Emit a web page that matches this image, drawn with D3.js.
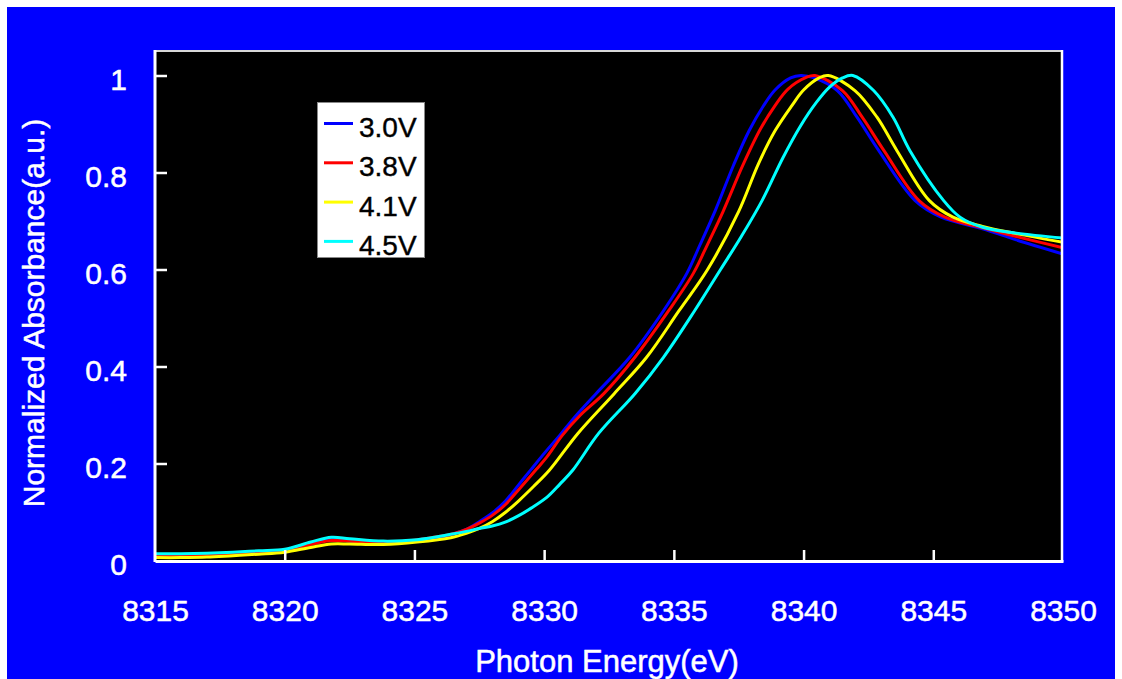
<!DOCTYPE html>
<html>
<head>
<meta charset="utf-8">
<script src="https://cdn.jsdelivr.net/npm/d3@7"></script>
<style>
  body { margin: 0; background: #ffffff; }
  svg { display: block; font-family: "Liberation Sans", Arial, sans-serif; }
</style>
</head>
<body>
<div id="container"></div>
<script>
/* CONSTANTS AND GLOBALS */
const width = 1122,
  height = 679,
  margin = { top: 50, bottom: 119, left: 155, right: 59 };

/* DATA */
const labels = ["3.0V", "3.8V", "4.1V", "4.5V"];
const colors = ["#0000ff", "#ff0000", "#ffff00", "#00ffff"];

const energy30 = [8315, 8316, 8317, 8318, 8319, 8320, 8321, 8321.8, 8322.5, 8323, 8324, 8325, 8326, 8326.5, 8327, 8327.5, 8328, 8328.5, 8329, 8329.5, 8330.1, 8330.6, 8331.2, 8332.0, 8333.3, 8334.6, 8335.5, 8336.0, 8336.6, 8337.3, 8337.9, 8338.45, 8338.9, 8339.5, 8339.9, 8340.4, 8341.3, 8342.06, 8342.9, 8344.3, 8345.3, 8346.9, 8348.2, 8350];
const abs30 = [0.012, 0.012, 0.013, 0.016, 0.018, 0.022, 0.035, 0.045, 0.040, 0.037, 0.037, 0.041, 0.048, 0.055, 0.064, 0.080, 0.098, 0.122, 0.155, 0.188, 0.227, 0.258, 0.297, 0.344, 0.419, 0.515, 0.592, 0.650, 0.722, 0.815, 0.886, 0.937, 0.970, 0.995, 1.0, 0.995, 0.969, 0.914, 0.845, 0.742, 0.708, 0.684, 0.661, 0.632];

const energy38 = [8315, 8316, 8317, 8318, 8319, 8320, 8321, 8321.8, 8322.5, 8323, 8324, 8325, 8326, 8326.5, 8327, 8327.5, 8328, 8328.5, 8329, 8329.7, 8330.1, 8330.7, 8331.4, 8332.3, 8333.5, 8334.8, 8335.75, 8336.3, 8336.9, 8337.66, 8338.32, 8338.9, 8339.4, 8340.1, 8340.44, 8341.5, 8342.26, 8343.1, 8344.45, 8345.45, 8346.9, 8348.2, 8350];
const abs38 = [0.010, 0.010, 0.011, 0.013, 0.016, 0.022, 0.033, 0.041, 0.040, 0.038, 0.038, 0.042, 0.050, 0.055, 0.064, 0.077, 0.093, 0.115, 0.145, 0.188, 0.213, 0.258, 0.300, 0.344, 0.419, 0.515, 0.592, 0.652, 0.720, 0.815, 0.888, 0.938, 0.972, 0.996, 1.0, 0.969, 0.914, 0.845, 0.742, 0.708, 0.686, 0.668, 0.645];

const energy41 = [8315, 8316, 8317, 8318, 8319, 8320, 8321, 8321.8, 8322.5, 8323.8, 8325.1, 8326.4, 8327, 8327.5, 8328, 8328.5, 8329, 8329.6, 8330.2, 8331.3, 8332.7, 8333.95, 8335.2, 8336.3, 8337.5, 8338.26, 8338.9, 8339.55, 8340.0, 8340.6, 8340.95, 8341.98, 8342.83, 8343.6, 8344.85, 8345.76, 8346.9, 8348.2, 8350];
const abs41 = [0.006, 0.006, 0.007, 0.010, 0.013, 0.017, 0.027, 0.034, 0.034, 0.033, 0.038, 0.047, 0.056, 0.066, 0.080, 0.099, 0.122, 0.153, 0.186, 0.262, 0.344, 0.419, 0.515, 0.600, 0.720, 0.818, 0.886, 0.938, 0.970, 0.995, 1.0, 0.969, 0.914, 0.845, 0.742, 0.708, 0.689, 0.674, 0.656];

const energy45 = [8315, 8316, 8317, 8318, 8319, 8320, 8321, 8321.8, 8322.5, 8323.8, 8325.1, 8326.4, 8327, 8327.5, 8328, 8328.5, 8329, 8329.5, 8330.1, 8330.6, 8331.1, 8332.1, 8333.5, 8334.6, 8335.8, 8336.8, 8337.6, 8338.4, 8339.2, 8339.87, 8340.5, 8341.0, 8341.5, 8341.9, 8342.7, 8343.45, 8344.1, 8345.4, 8346.03, 8346.9, 8348.2, 8350];
const abs45 = [0.014, 0.014, 0.015, 0.017, 0.020, 0.023, 0.038, 0.048, 0.045, 0.040, 0.043, 0.054, 0.060, 0.066, 0.071, 0.079, 0.092, 0.108, 0.130, 0.157, 0.186, 0.262, 0.344, 0.419, 0.515, 0.600, 0.668, 0.742, 0.830, 0.895, 0.945, 0.976, 0.995, 1.0, 0.969, 0.914, 0.845, 0.742, 0.708, 0.687, 0.675, 0.665];

const xTicks = [8315, 8320, 8325, 8330, 8335, 8340, 8345, 8350];
const yTicks = [0, 0.2, 0.4, 0.6, 0.8, 1];

const series = [
  { name: labels[0], color: colors[0], values: energy30.map((e, i) => ({ e, a: abs30[i] })) },
  { name: labels[1], color: colors[1], values: energy38.map((e, i) => ({ e, a: abs38[i] })) },
  { name: labels[2], color: colors[2], values: energy41.map((e, i) => ({ e, a: abs41[i] })) },
  { name: labels[3], color: colors[3], values: energy45.map((e, i) => ({ e, a: abs45[i] })) }
];

/* SCALES */
const xScale = d3.scaleLinear()
  .domain([8315, 8350])
  .range([margin.left, width - margin.right]);

// 0 sits on the bottom axis, 1 at y~75
const yScale = d3.scaleLinear()
  .domain([0, 1])
  .range([560.5, 75.5]);

const bottom = 560.5;

/* SVG */
const svg = d3.select("#container")
  .append("svg")
  .attr("width", width)
  .attr("height", height);

// blue panel
svg.append("rect")
  .attr("x", 7).attr("y", 7)
  .attr("width", width - 14).attr("height", height - 7)
  .attr("fill", "#0000ff");

// plot area
svg.append("rect")
  .attr("x", xScale(8315)).attr("y", margin.top)
  .attr("width", xScale(8350) - xScale(8315))
  .attr("height", bottom - margin.top)
  .attr("fill", "#000000");

svg.append("defs").append("clipPath").attr("id", "clip")
  .append("rect")
  .attr("x", xScale(8315)).attr("y", margin.top)
  .attr("width", xScale(8350) - xScale(8315))
  .attr("height", bottom - margin.top);

// curves
const line = d3.line()
  .x(d => xScale(d.e))
  .y(d => yScale(d.a))
  .curve(d3.curveCatmullRom.alpha(0.5));

svg.append("g")
  .attr("clip-path", "url(#clip)")
  .selectAll("path")
  .data(series)
  .join("path")
  .attr("d", d => line(d.values))
  .attr("fill", "none")
  .attr("stroke", d => d.color)
  .attr("stroke-width", 3)
  .attr("stroke-linejoin", "round");

// frame
svg.append("line")
  .attr("x1", xScale(8315)).attr("x2", xScale(8350))
  .attr("y1", margin.top + 1).attr("y2", margin.top + 1)
  .attr("stroke", "#d8d8d8").attr("stroke-width", 2);
svg.append("line")
  .attr("x1", xScale(8350) - 1).attr("x2", xScale(8350) - 1)
  .attr("y1", margin.top).attr("y2", 562)
  .attr("stroke", "#ffffff").attr("stroke-width", 2.5);

// axes
const xAxis = d3.axisBottom(xScale)
  .tickValues(xTicks)
  .tickSize(0)
  .tickFormat(d3.format("d"));
const yAxis = d3.axisLeft(yScale)
  .tickValues(yTicks)
  .tickSize(0)
  .tickFormat(d => d === 0 || d === 1 ? String(d) : d.toFixed(1));

const xAxisGroup = svg.append("g")
  .attr("transform", `translate(0, ${561})`)
  .call(xAxis);
xAxisGroup.select(".domain").attr("stroke", "#ffffff").attr("stroke-width", 3);
xAxisGroup.selectAll(".tick text")
  .attr("fill", "#ffffff")
  .attr("stroke", "#ffffff")
  .attr("stroke-width", 0.5)
  .attr("font-size", 30)
  .attr("font-family", "'Liberation Sans', Arial, sans-serif")
  .attr("dy", null)
  .attr("y", 60);
// inward ticks
xAxisGroup.selectAll(".tick")
  .filter(d => d > 8315 && d < 8350)
  .append("line")
  .attr("y1", 0).attr("y2", -11)
  .attr("stroke", "#ffffff").attr("stroke-width", 2.5);

const yAxisGroup = svg.append("g")
  .attr("transform", `translate(${xScale(8315)}, 0)`)
  .call(yAxis);
yAxisGroup.select(".domain").attr("stroke", "#ffffff").attr("stroke-width", 3)
  .attr("d", `M0,${margin.top}V562`);
yAxisGroup.selectAll(".tick text")
  .attr("fill", "#ffffff")
  .attr("stroke", "#ffffff")
  .attr("stroke-width", 0.5)
  .attr("font-size", 30)
  .attr("font-family", "'Liberation Sans', Arial, sans-serif")
  .attr("x", -28)
  .attr("dy", "0.45em");
yAxisGroup.selectAll(".tick")
  .filter(d => d > 0)
  .append("line")
  .attr("x1", 0).attr("x2", 12)
  .attr("stroke", "#ffffff").attr("stroke-width", 2.5);

// axis titles
svg.append("text")
  .attr("x", 607)
  .attr("y", 672)
  .attr("text-anchor", "middle")
  .attr("fill", "#ffffff")
  .attr("stroke", "#ffffff")
  .attr("stroke-width", 0.5)
  .attr("font-size", 31)
  .text("Photon Energy(eV)");

svg.append("text")
  .attr("transform", "translate(44, 313) rotate(-90)")
  .attr("text-anchor", "middle")
  .attr("fill", "#ffffff")
  .attr("stroke", "#ffffff")
  .attr("stroke-width", 0.5)
  .attr("font-size", 30)
  .text("Normalized Absorbance(a.u.)");

// legend
const legend = svg.append("g");
legend.append("rect")
  .attr("x", 317.5).attr("y", 102.5)
  .attr("width", 107).attr("height", 155)
  .attr("fill", "#ffffff")
  .attr("stroke", "#888888").attr("stroke-width", 1);

const legendItem = legend.selectAll("g.item")
  .data(series)
  .join("g")
  .attr("class", "item")
  .attr("transform", (d, i) => `translate(0, ${123.5 + i * 39.3})`);

legendItem.append("line")
  .attr("x1", 324).attr("x2", 353)
  .attr("stroke", d => d.color)
  .attr("stroke-width", 3);

legendItem.append("text")
  .attr("x", 359)
  .attr("y", 13.5)
  .attr("fill", "#000000")
  .attr("stroke", "#000000")
  .attr("stroke-width", 0.4)
  .attr("font-size", 28)
  .text(d => d.name);
</script>
</body>
</html>
